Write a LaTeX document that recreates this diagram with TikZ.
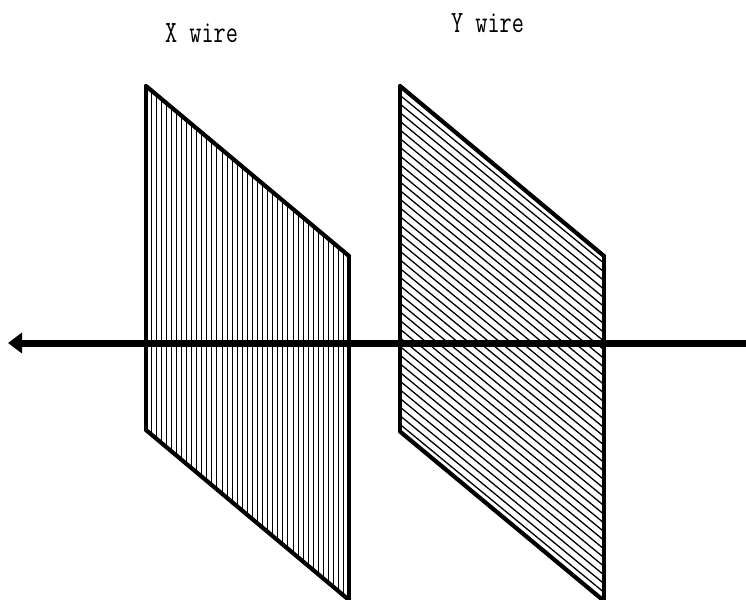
\documentclass[tikz,border=0pt]{standalone}
\usetikzlibrary{arrows.meta}
\tikzset{
  edge/.style={line width=3.3pt,line cap=round},
  slant/.style={line width=4.2pt,line cap=round},
  hatchx/.style={line width=1pt,black},
  hatchy/.style={line width=1.3pt,black},
  beam/.style={line width=7pt,-{Triangle[length=14pt,width=20pt]}},
  lbl/.style={inner sep=0pt,anchor=base,xscale=0.76,font=\ttfamily\fontsize{31}{31}\selectfont}
}
\begin{document}
\begin{tikzpicture}[x=1pt,y=-1pt]
\useasboundingbox (0,0) rectangle (746,599);
\clip (0,0) rectangle (746,599);
% X wire panel
\foreach \i in {1,...,39}{
  \pgfmathsetmacro{\xx}{146+\i*5.07}
  \pgfmathsetmacro{\yy}{86+(\xx-146)*0.8374}
  \draw[hatchx] (\xx,\yy) -- (\xx,\yy+344);
}
\draw[edge] (146,430) -- (146,86);
\draw[edge] (349,256) -- (349,600);
\draw[slant] (146,86) -- (349,256);
\draw[slant] (146,430) -- (349,600);
% Y wire panel
\foreach \i in {1,...,39}{
  \pgfmathsetmacro{\yy}{86.6+\i*8.66}
  \draw[hatchy] (400,\yy) -- (604,\yy+168);
}
\draw[edge] (400,431) -- (400,86);
\draw[edge] (604,256) -- (604,600);
\draw[slant] (400,86) -- (604,256);
\draw[slant] (400,431.5) -- (604,601);
% beam
\coordinate (beamstart) at (746,343);
\coordinate (beamend) at (8,343);
\draw[beam] (beamstart) -- (beamend);
\node[lbl] (xlabel) at (201.5,43) {X wire};
\node[lbl] (ylabel) at (487.5,33) {Y wire};
\end{tikzpicture}
\end{document}
